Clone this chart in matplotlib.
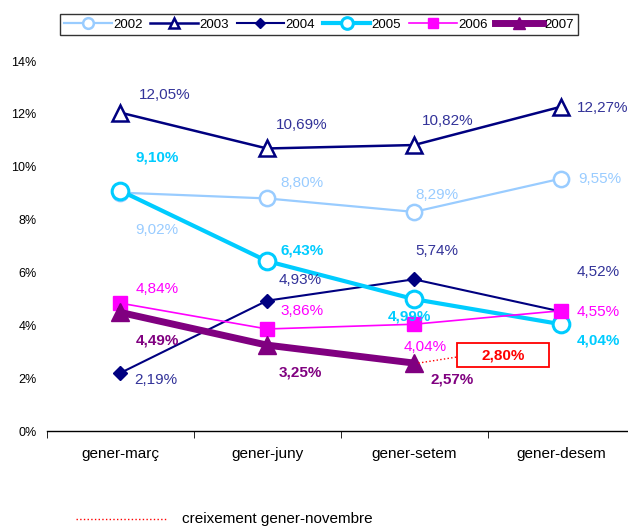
import matplotlib
matplotlib.use("Agg")
import matplotlib.pyplot as plt
from matplotlib.lines import Line2D
from matplotlib.patches import Rectangle

plt.rcParams['font.family'] = ['Liberation Sans', 'DejaVu Sans']

categories = ["gener-març", "gener-juny", "gener-setem", "gener-desem"]
years = ["2002", "2003", "2004", "2005", "2006", "2007"]
v2002 = [9.02, 8.80, 8.29, 9.55]
v2003 = [12.05, 10.69, 10.82, 12.27]
v2004 = [2.19, 4.93, 5.74, 4.52]
v2005 = [9.10, 6.43, 4.99, 4.04]
v2006 = [4.84, 3.86, 4.04, 4.55]
v2007 = [4.49, 3.25, 2.57]
nov_2007 = 2.80
yticks = [0, 2, 4, 6, 8, 10, 12, 14]
bottom_note = "creixement gener-novembre"

series = [v2002, v2003, v2004, v2005, v2006, v2007]

styles = [
    dict(color="#99CCFF", lw=1.6, marker="o", ms=11, mfc="white", mec="#99CCFF", mew=1.8),
    dict(color="#000080", lw=1.8, marker="^", ms=11, mfc="white", mec="#000080", mew=1.8),
    dict(color="#000080", lw=1.5, marker="D", ms=7, mfc="#000080", mec="#000080", mew=1),
    dict(color="#00CCFF", lw=3.0, marker="o", ms=12, mfc="white", mec="#00CCFF", mew=2.2),
    dict(color="#FF00FF", lw=1.2, marker="s", ms=9.5, mfc="#FF00FF", mec="#FF00FF", mew=1),
    dict(color="#800080", lw=5.0, marker="^", ms=13, mfc="#800080", mec="#800080", mew=1),
]
label_colors = ["#99CCFF", "#333399", "#333399", "#00CCFF", "#FF00FF", "#800080"]
label_bold = [False, False, False, True, False, True]
# label offsets in pixels (dx, dy with y up)
offsets = [
    [(37, -37), (35, 15), (23, 17), (39, 0)],
    [(45, 17.5), (35, 23.5), (34, 24), (42, -1)],
    [(36, -7), (33, 21), (23, 28), (37, 40)],
    [(37, 33.5), (35, 11), (-5, -17), (37, -16)],
    [(37, 14), (35, 18), (11, -23), (37, -1)],
    [(37, -28), (33, -27), (38, -16)],
]

fig = plt.figure(figsize=(6.28, 5.28), dpi=100)
ax = fig.add_axes([46.5 / 628, 97 / 528, 588 / 628, 370 / 528])
ax.set_xlim(-0.5, 3.5)
ax.set_ylim(0, 14)

handles = []
for name, vals, st, lc, bold, offs in zip(years, series, styles, label_colors, label_bold, offsets):
    xs = list(range(len(vals)))
    h, = ax.plot(xs, vals, label=name, clip_on=False, **st)
    handles.append(h)
    for x, v, (dx, dy) in zip(xs, vals, offs):
        ax.annotate(f"{v:.2f}%".replace(".", ","), (x, v), xytext=(dx, dy),
                    textcoords="offset pixels", ha="center", va="center",
                    color=lc, fontsize=11, fontweight="bold" if bold else "normal")

# November 2007 box with dotted connector
ax.plot([2.03, 2.293], [v2007[2], nov_2007], color="red", lw=1, ls=":", zorder=5)
ax.add_patch(Rectangle((2.293, 2.42), 0.625, 0.91, facecolor="white", edgecolor="red",
                       lw=1.3, zorder=6))
ax.text(2.605, 2.875, f"{nov_2007:.2f}%".replace(".", ","), color="red", fontsize=11,
        fontweight="bold", ha="center", va="center", zorder=7)

ax.set_yticks(yticks)
ax.set_yticklabels([f"{t}%" for t in yticks], fontsize=9)
ax.tick_params(axis="y", length=0, pad=7)
ax.set_xticks(range(len(categories)))
ax.set_xticklabels(categories, fontsize=11)
ax.set_xticks([-0.5, 0.5, 1.5, 2.5, 3.5], minor=True)
ax.tick_params(axis="x", which="major", length=0, pad=11.5)
ax.tick_params(axis="x", which="minor", length=5, direction="out")
for s in ["left", "right", "top"]:
    ax.spines[s].set_visible(False)
ax.spines["bottom"].set_linewidth(1)

leg = fig.legend(handles=handles, loc="center", bbox_to_anchor=(319 / 628, 503.5 / 528),
                 ncol=6, fontsize=9.5, handlelength=3.6, handletextpad=0.1,
                 columnspacing=0.6, frameon=True, fancybox=False, borderpad=0.3,
                 markerscale=0.7)
leg.get_frame().set_edgecolor("black")
leg.get_frame().set_linewidth(1)

fig.add_artist(Line2D([76 / 628, 167 / 628], [9 / 528, 9 / 528], color="red", lw=1, ls=":"))
fig.text(182 / 628, 5 / 528, bottom_note, fontsize=11, ha="left", va="baseline")

fig.savefig("out.png", dpi=100)
